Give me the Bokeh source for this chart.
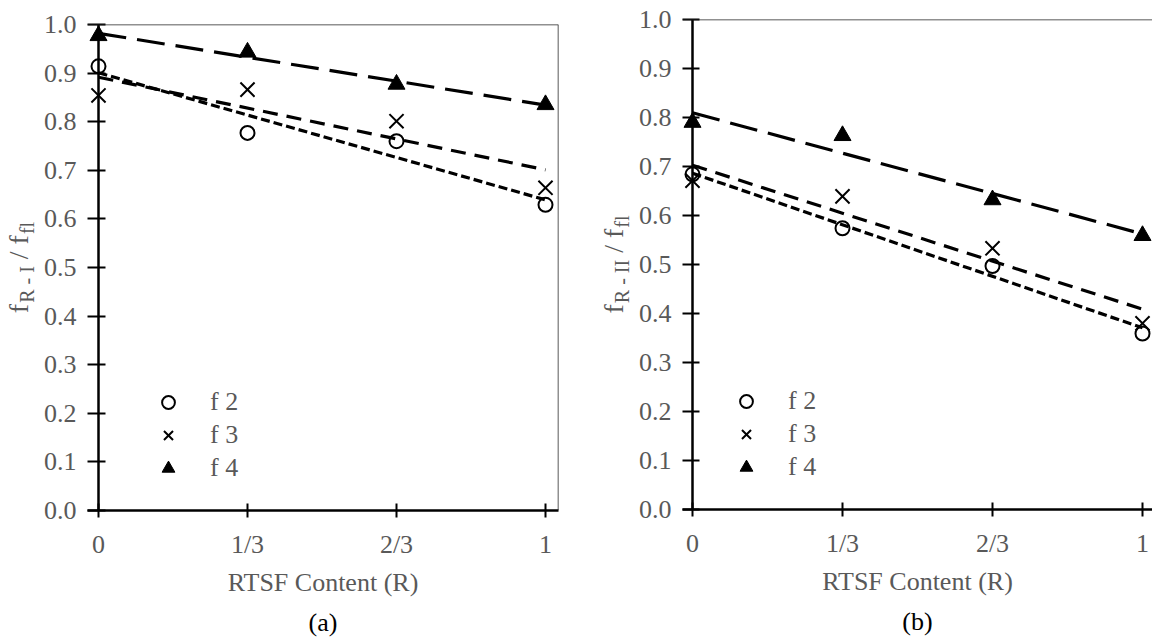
import numpy as np
from bokeh.plotting import figure
from bokeh.models import Range1d, FixedTicker, Legend, LegendItem, Span, PrintfTickFormatter, Title
from bokeh.core.properties import value
from bokeh.layouts import row
from bokeh.embed import file_html
from bokeh.resources import INLINE

# ---------------- data ----------------
x_labels = ["0", "1/3", "2/3", "1"]          # RTSF content R
x_pos = [0, 1, 2, 3]                         # category positions

# panel (a): f_R-I / f_fl
a_f2 = [0.914, 0.777, 0.760, 0.629]
a_f3 = [0.854, 0.866, 0.801, 0.664]
a_f4 = [0.977, 0.943, 0.877, 0.835]

# panel (b): f_R-II / f_fl
b_f2 = [0.684, 0.574, 0.497, 0.359]
b_f3 = [0.671, 0.639, 0.533, 0.380]
b_f4 = [0.790, 0.763, 0.632, 0.559]

series_names = ["f 2", "f 3", "f 4"]
y_ticks = [round(0.1 * i, 1) for i in range(11)]

FONT = "Liberation Serif"
GRAY = "#595959"
H = 642
FS = "26px"

CW = {'f': 0.333, 'R': 0.667, ' ': 0.25, '-': 0.333, 'I': 0.333, '/': 0.278, 'l': 0.278}


def tw(s, size):
    return sum(CW.get(c, 0.5) for c in s) * size


def ytitle_fig(width, sub, bx, ft, fb):
    """narrow helper canvas holding the rotated y-axis title with subscripts;
    its frame has the same top/bottom as the neighbouring panel, and its
    data units are page pixels (y measured up from the page bottom)"""
    p = figure(width=width, height=H, output_backend="svg", toolbar_location=None,
               x_range=Range1d(0, width), y_range=Range1d(H - fb, H - ft),
               x_axis_type=None, y_axis_type=None,
               min_border_left=0, min_border_right=0,
               min_border_top=ft, min_border_bottom=H - fb)
    p.outline_line_color = None
    p.xgrid.visible = False
    p.ygrid.visible = False
    F, S, off = 28, 20, 6
    pieces = [("f", F, 0, 0.0), (sub, S, off, 1.0), ("/ f", F, 0, 0.25 * F), ("fl", S, off, 1.0)]
    L = sum(tw(t, s) + g for t, s, o, g in pieces)
    cur = (ft + fb) / 2.0 + L / 2.0
    for t, s, o, g in pieces:
        cur -= g
        w = tw(t, s)
        cx = bx + o - 0.33 * s
        cy = H - (cur - w / 2.0)
        p.text(x=[cx], y=[cy], text=[t], angle=np.pi / 2,
               text_font=value(FONT), text_font_size=value(f"{s}px"), text_color=GRAY,
               text_align="center", text_baseline="middle")
        cur -= w
    return p


def make_panel(width, fl, fr, ft, fb, x0px, x3px, series, tag, leg_xy, right_border,
               xt_off, tag_off):
    scale = (x3px - x0px) / 3.0
    xs = (fl - x0px) / scale
    xe = (fr - x0px) / scale
    p = figure(width=width, height=H, output_backend="svg", toolbar_location=None,
               x_range=Range1d(xs, xe), y_range=Range1d(0, 1),
               min_border_left=fl, min_border_right=width - fr,
               min_border_top=ft, min_border_bottom=H - fb)
    p.outline_line_color = None
    p.xgrid.visible = False
    p.ygrid.visible = False

    for ax in (p.xaxis, p.yaxis):
        ax.axis_line_width = 2.5
        ax.axis_line_color = "black"
        ax.major_tick_line_width = 2
        ax.major_tick_line_color = "black"
        ax.minor_tick_line_color = None
        ax.major_label_text_font = FONT
        ax.major_label_text_font_size = FS
        ax.major_label_text_color = GRAY

    p.xaxis.major_tick_in = 7
    p.xaxis.major_tick_out = 7
    p.xaxis.major_label_standoff = 12
    p.xaxis.ticker = FixedTicker(ticks=x_pos)
    p.xaxis.major_label_overrides = {i: lab for i, lab in zip(x_pos, x_labels)}

    # y axis: labels at frame edge, ticks reaching across the x=0 line
    p.yaxis.axis_line_color = None
    p.yaxis.major_tick_out = 0
    p.yaxis.major_tick_in = int(round(x0px - fl + 7))
    p.yaxis.major_label_standoff = 11
    p.yaxis.ticker = FixedTicker(ticks=y_ticks)
    p.yaxis.formatter = PrintfTickFormatter(format="%.1f")
    p.add_layout(Span(location=0, dimension="height", line_color="black", line_width=2.5))

    # frame borders
    p.add_layout(Span(location=1.0, dimension="width", line_color="#222222", line_width=1.5))
    if right_border:
        p.add_layout(Span(location=xe, dimension="height", line_color="#222222", line_width=1.5))

    # trend lines (linear fits of each series)
    dashes = ["9 4", "15 9", "28 11"]
    xfit = np.array([x_pos[0], x_pos[-1]], dtype=float)
    for vals, dash in zip(series, dashes):
        k, b = np.polyfit(np.array(x_pos, dtype=float), np.array(vals), 1)
        p.line(xfit, k * xfit + b, line_color="black", line_width=3.2, line_dash=dash)

    r2 = p.scatter(x_pos, series[0], marker="circle", size=14, fill_color="white",
                   fill_alpha=0, line_color="black", line_width=2)
    r3 = p.scatter(x_pos, series[1], marker="x", size=20, line_color="black", line_width=2)
    r4 = p.scatter(x_pos, series[2], marker="triangle", size=17, fill_color="black",
                   line_color="black", line_width=1)

    legend = Legend(items=[LegendItem(label=series_names[0], renderers=[r2]),
                           LegendItem(label=series_names[1], renderers=[r3]),
                           LegendItem(label=series_names[2], renderers=[r4])],
                    location=leg_xy, orientation="vertical",
                    border_line_color=None, background_fill_alpha=0,
                    label_text_font=FONT, label_text_font_size=FS,
                    label_text_color=GRAY, glyph_width=34, glyph_height=32,
                    label_height=32, spacing=1, padding=0, margin=0, label_standoff=25)
    p.add_layout(legend)

    p.add_layout(Title(text="RTSF Content (R)", align="center", offset=xt_off,
                       text_font=FONT, text_font_size=FS, text_color=GRAY,
                       text_font_style="normal", standoff=8), "below")
    p.add_layout(Title(text=tag, align="center", offset=tag_off,
                       text_font=FONT, text_font_size=FS, text_color="black",
                       text_font_style="normal", standoff=11, text_line_height=1.3), "below")
    return p


# absolute layout: [ya 0-40][pa 40-580][yb 580-632][pb 632-1152]
ya = ytitle_fig(40, "R - I", 27, 24, 510)
pa = make_panel(540, 47, 518, 24, 510, 58, 505, [a_f2, a_f3, a_f4], "(a)",
                (64, 26), True, -15, -22)
yb = ytitle_fig(52, "R - II", 42, 19, 509)
pb = make_panel(520, 50, 520, 19, 509, 60, 510, [b_f2, b_f3, b_f4], "(b)",
                (47, 26), False, -20, -20)

layout = row(row(ya, pa, spacing=0), row(yb, pb, spacing=0), spacing=0)
open("out.html", "w").write(file_html(layout, INLINE))
